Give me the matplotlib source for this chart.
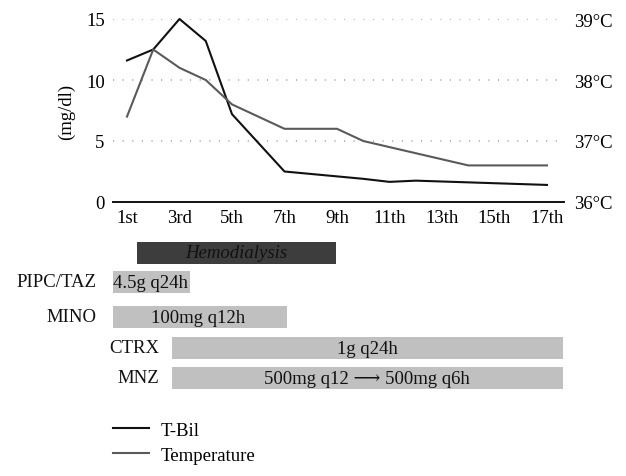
import matplotlib
matplotlib.use("Agg")
import matplotlib.pyplot as plt
from matplotlib.lines import Line2D

plt.rcParams['font.family'] = ['Liberation Serif', 'DejaVu Serif']
FS = 13.5

# ---- data ----
tbil_days = [1, 2, 3, 4, 5, 7, 10, 11, 12, 17]
tbil_vals = [11.6, 12.5, 15.0, 13.2, 7.2, 2.5, 1.9, 1.65, 1.75, 1.4]
temp_days = [1, 2, 3, 4, 5, 7, 9, 10, 14, 17]
temp_vals = [37.4, 38.5, 38.2, 38.0, 37.6, 37.2, 37.2, 37.0, 36.6, 36.6]
xtick_days = [1, 3, 5, 7, 9, 11, 13, 15, 17]
xtick_labels = ["1st", "3rd", "5th", "7th", "9th", "11th", "13th", "15th", "17th"]
left_ticks = [0, 5, 10, 15]
right_ticks = [36, 37, 38, 39]
right_labels = ["36°C", "37°C", "38°C", "39°C"]

treat_names = ["", "PIPC/TAZ", "MINO", "CTRX", "MNZ"]
treat_start = [1.38, 0.35, 0.35, 2.71, 2.71]
treat_end = [8.96, 3.40, 7.10, 17.60, 17.60]
treat_text = ["Hemodialysis", "4.5g q24h", "100mg q12h", "1g q24h",
              "500mg q12 \u27f6 500mg q6h"]

# ---- layout ----
W, H = 626, 477
fig = plt.figure(figsize=(W / 100, H / 100), dpi=100)
px_l, px_r = 113, 564
ax = fig.add_axes([px_l / W, 1 - 203 / H, (px_r - px_l) / W, (203 - 20) / H])
xmin, xmax = 0.467, 17.648
ax.set_xlim(xmin, xmax)
ax.set_ylim(0, 15)

for yv in [5, 10, 15]:
    ax.axhline(yv, color='#9a9a9a', lw=1.1, ls=(0, (0.7, 5.6)), zorder=0)

ax.plot(tbil_days, tbil_vals, color='#111111', lw=1.5, clip_on=False, zorder=3)
ax2 = ax.twinx()
ax2.set_ylim(36, 39)
ax2.plot(temp_days, temp_vals, color='#5a5a5a', lw=1.5, clip_on=False, zorder=2)

for a in (ax, ax2):
    for s in ['top', 'left', 'right', 'bottom']:
        a.spines[s].set_visible(False)
ax.axhline(0, color='#111111', lw=1.4, clip_on=False)

ax.set_xticks(xtick_days)
ax.set_xticklabels(xtick_labels, fontsize=FS)
ax.set_yticks(left_ticks)
ax.set_yticklabels([str(v) for v in left_ticks], fontsize=FS)
ax2.set_yticks(right_ticks)
ax2.set_yticklabels(right_labels, fontsize=FS)
ax.tick_params(axis='both', length=0, pad=6)
ax.tick_params(axis='x', pad=5)
ax2.tick_params(axis='y', length=0, pad=7)
ax.set_ylabel("(mg/dl)", fontsize=FS, labelpad=7.5)

# ---- treatment bars ----
bx = fig.add_axes([px_l / W, 1 - 400 / H, (px_r - px_l) / W, (400 - 230) / H])
bx.set_xlim(xmin, xmax)
bx.set_ylim(400, 230)
bx.axis('off')
row_y = [253.5, 283, 318, 349, 379]
row_h = [22, 22, 22, 22, 22]
colors = ['#3d3d3d', '#c0c0c0', '#c0c0c0', '#c0c0c0', '#c0c0c0']
for i in range(len(treat_names)):
    bx.barh(row_y[i], treat_end[i] - treat_start[i], left=treat_start[i],
            height=row_h[i], color=colors[i], edgecolor='none')
    cx = (treat_start[i] + treat_end[i]) / 2
    bx.text(cx, row_y[i] + 0.5, treat_text[i], ha='center', va='center',
            fontsize=FS, style='italic' if i == 0 else 'normal', color='#111111')
    if treat_names[i]:
        bx.text(treat_start[i] - 0.5, row_y[i], treat_names[i], ha='right',
                va='center', fontsize=FS, color='#111111')

handles = [Line2D([], [], color='#111111', lw=1.5),
           Line2D([], [], color='#5a5a5a', lw=1.5)]
fig.legend(handles, ["T-Bil", "Temperature"], loc='upper left',
           bbox_to_anchor=(96 / W, 1 - 406 / H), frameon=False, fontsize=FS,
           handlelength=1.9, handletextpad=0.65, labelspacing=0.4)

fig.savefig("out.png", dpi=100)
